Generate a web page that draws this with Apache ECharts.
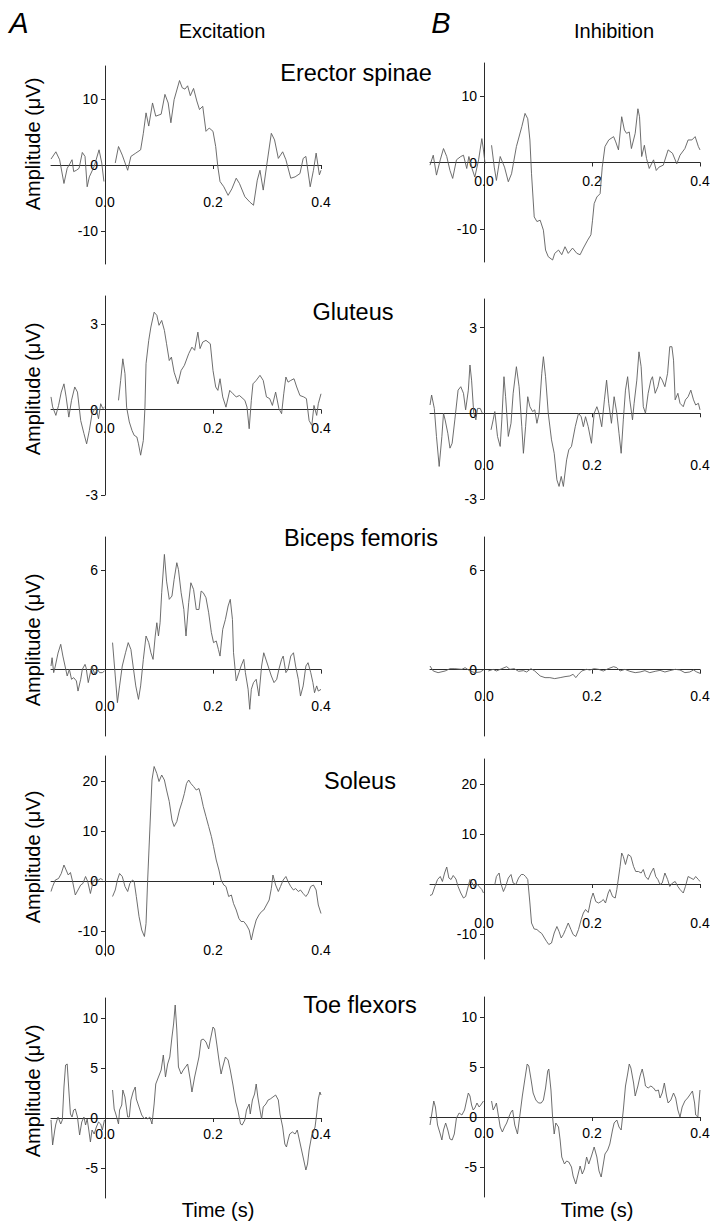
<!DOCTYPE html>
<html>
<head>
<meta charset="utf-8">
<title>Excitation / Inhibition</title>
<script src="https://cdn.jsdelivr.net/npm/echarts@6/dist/echarts.min.js"></script>
<style>
  html, body { margin: 0; padding: 0; background: #fff; }
  #chart { width: 710px; height: 1221px; }
</style>
</head>
<body>
<div id="chart"></div>
<script>
const muscles = ['Erector spinae', 'Gluteus', 'Biceps femoris', 'Soleus', 'Toe flexors']
const conditions = ['Excitation', 'Inhibition']
const columnLetters = ['A', 'B']
const timeMin = -0.1
const timeMax = 0.4
const timeTicks = [0, 0.2, 0.4]
const ampMin = [-15, -3, -4, -15, -8]
const ampMax = [15, 4, 8, 25, 12]
const ampTicks = [[-10, 0, 10], [-3, 0, 3], [0, 6], [-10, 0, 10, 20], [-5, 0, 5, 10]]

// traces as [time (s), amplitude (uV)]; null = blanked stimulus artefact
const erectorExc = [[-0.1,0.9],[-0.091,2.0],[-0.084,0.8],[-0.076,-2.8],[-0.07,-0.5],[-0.065,0.2],[-0.061,0.8],[-0.058,-1.0],[-0.053,-0.8],[-0.048,-0.5],[-0.042,1.9],[-0.037,1.3],[-0.033,-3.3],[-0.029,-1.8],[-0.02,-0.2],[-0.011,2.3],[-0.006,0.3],[-0.002,-2.5],[0.008,null],[0.019,0.3],[0.025,2.8],[0.032,1.5],[0.042,-0.8],[0.048,1.3],[0.057,1.8],[0.066,2.3],[0.071,4.8],[0.076,7.9],[0.081,5.9],[0.088,9.4],[0.094,7.4],[0.104,7.7],[0.111,10.7],[0.117,9.4],[0.122,6.4],[0.128,9.9],[0.138,12.8],[0.143,11.7],[0.148,11.5],[0.153,12.0],[0.158,10.5],[0.164,11.6],[0.17,9.7],[0.175,8.4],[0.181,8.9],[0.187,5.1],[0.193,5.6],[0.2,5.1],[0.205,2.8],[0.209,-0.3],[0.213,-2.5],[0.22,-3.3],[0.228,-4.6],[0.235,-3.6],[0.243,-2.0],[0.249,-2.8],[0.259,-4.8],[0.268,-5.6],[0.275,-6.1],[0.282,-2.3],[0.287,-0.8],[0.293,-3.8],[0.299,-0.3],[0.308,4.8],[0.314,3.8],[0.321,1.0],[0.329,2.0],[0.335,0.8],[0.344,-2.0],[0.352,-1.8],[0.361,-1.3],[0.367,1.0],[0.372,1.3],[0.38,-3.3],[0.386,-0.8],[0.391,1.8],[0.397,-1.5],[0.4,-0.8]]
const erectorInh = [[-0.1,-0.4],[-0.094,1.1],[-0.088,-1.9],[-0.081,0.4],[-0.075,2.1],[-0.069,0.9],[-0.063,-1.2],[-0.058,-2.4],[-0.051,0.4],[-0.043,0.9],[-0.038,1.1],[-0.032,-0.9],[-0.028,0.9],[-0.023,-0.7],[-0.017,-2.2],[-0.01,0.4],[-0.004,3.6],[-0.001,1.9],[0.002,-0.2],[0.008,null],[0.014,2.6],[0.019,-0.7],[0.023,-2.7],[0.03,0.9],[0.038,-0.7],[0.045,-2.9],[0.051,-1.7],[0.06,2.4],[0.07,5.4],[0.076,7.4],[0.081,6.6],[0.085,3.4],[0.088,-1.7],[0.093,-8.2],[0.098,-8.9],[0.104,-8.7],[0.11,-10.2],[0.114,-13.2],[0.119,-14.2],[0.127,-14.7],[0.131,-13.7],[0.138,-13.2],[0.144,-13.9],[0.15,-12.7],[0.156,-13.7],[0.164,-12.9],[0.172,-13.7],[0.178,-13.9],[0.184,-12.9],[0.192,-11.7],[0.198,-10.9],[0.201,-8.7],[0.204,-6.2],[0.209,-5.2],[0.215,-4.7],[0.219,-0.7],[0.224,2.4],[0.231,3.4],[0.24,3.9],[0.244,3.1],[0.249,1.9],[0.255,6.9],[0.26,4.9],[0.264,4.4],[0.269,4.6],[0.273,2.1],[0.28,4.4],[0.285,8.1],[0.288,6.9],[0.292,0.9],[0.297,2.6],[0.301,0.6],[0.306,-0.9],[0.314,0.4],[0.319,-1.2],[0.324,-0.7],[0.332,-0.4],[0.341,1.9],[0.349,1.4],[0.357,-0.2],[0.363,1.1],[0.372,2.1],[0.378,3.4],[0.385,3.4],[0.391,3.9],[0.397,2.4],[0.4,1.9]]
const gluteusExc = [[-0.1,0.45],[-0.097,0.1],[-0.091,-0.2],[-0.086,0.15],[-0.081,0.62],[-0.076,0.91],[-0.072,0.45],[-0.067,-0.26],[-0.062,0.33],[-0.056,0.8],[-0.051,0.62],[-0.045,-0.38],[-0.039,-0.84],[-0.034,-1.2],[-0.029,-0.73],[-0.024,-0.14],[-0.017,0.09],[-0.012,-0.32],[-0.008,0.21],[-0.004,0.04],[-0.001,0.09],[0.012,null],[0.025,0.33],[0.029,1.03],[0.033,1.79],[0.037,1.27],[0.04,0.09],[0.045,-0.43],[0.05,-0.73],[0.054,-0.9],[0.059,-0.96],[0.062,-1.2],[0.066,-1.6],[0.071,-1.08],[0.074,0.09],[0.076,1.62],[0.081,2.44],[0.085,2.91],[0.091,3.43],[0.096,3.32],[0.1,2.97],[0.105,3.14],[0.11,2.79],[0.114,2.32],[0.119,1.73],[0.123,1.85],[0.128,1.32],[0.135,0.91],[0.141,1.38],[0.147,1.56],[0.155,1.97],[0.161,2.2],[0.166,2.09],[0.172,2.73],[0.176,2.15],[0.181,2.38],[0.187,2.44],[0.195,2.32],[0.2,1.38],[0.205,0.8],[0.209,0.68],[0.213,1.09],[0.218,0.45],[0.224,0.09],[0.231,0.68],[0.237,0.56],[0.243,0.45],[0.249,0.5],[0.259,0.33],[0.263,0.09],[0.267,-0.67],[0.271,0.33],[0.274,0.91],[0.28,1.03],[0.287,1.21],[0.293,1.03],[0.299,0.45],[0.305,0.39],[0.31,0.15],[0.316,0.62],[0.322,0.04],[0.327,-0.14],[0.331,0.56],[0.335,1.15],[0.339,0.97],[0.344,1.03],[0.35,1.09],[0.355,0.8],[0.361,0.5],[0.368,0.45],[0.373,0.39],[0.378,-0.38],[0.383,-0.55],[0.387,0.15],[0.392,-0.2],[0.395,0.21],[0.4,0.56]]
const gluteusInh = [[-0.1,0.29],[-0.097,0.64],[-0.092,0.17],[-0.088,-0.81],[-0.083,-1.86],[-0.078,-0.81],[-0.075,0],[-0.072,-0.23],[-0.067,-0.7],[-0.063,-1.22],[-0.059,-1.05],[-0.054,-0.23],[-0.048,0.81],[-0.043,0.93],[-0.038,0.7],[-0.034,0.12],[-0.029,0.81],[-0.026,1.69],[-0.023,1.16],[-0.019,0],[-0.015,-0.23],[-0.012,0.17],[-0.007,0.17],[-0.003,0],[0.005,null],[0.013,-0.58],[0.017,-0.23],[0.02,0.06],[0.025,-0.81],[0.03,-1.16],[0.033,-0.23],[0.037,1.28],[0.04,0.58],[0.045,-0.81],[0.05,-0.35],[0.054,0.7],[0.06,1.63],[0.065,0.93],[0.07,-0.47],[0.073,-1.4],[0.077,-0.47],[0.081,0.58],[0.085,0.23],[0.09,0.06],[0.094,0.12],[0.098,-0.35],[0.102,0],[0.107,1.4],[0.11,1.98],[0.114,1.28],[0.119,0],[0.125,-0.93],[0.13,-1.4],[0.135,-2.33],[0.139,-2.56],[0.143,-2.21],[0.147,-2.56],[0.15,-2.09],[0.153,-1.63],[0.157,-1.28],[0.162,-1.16],[0.169,-0.47],[0.175,0],[0.18,-0.12],[0.184,-0.47],[0.188,-0.12],[0.193,-0.47],[0.199,-1.05],[0.204,0],[0.209,0.23],[0.213,0],[0.218,-0.47],[0.223,0.47],[0.227,1.16],[0.231,0.35],[0.236,-0.35],[0.241,0.58],[0.246,0],[0.25,-0.7],[0.254,-1.4],[0.258,-0.23],[0.262,0.81],[0.266,1.28],[0.27,0.47],[0.275,-0.23],[0.278,0.35],[0.283,1.16],[0.287,2.15],[0.291,1.63],[0.295,0.23],[0.299,0],[0.304,0.7],[0.309,1.16],[0.312,1.28],[0.317,0.7],[0.322,0.93],[0.326,1.28],[0.33,1.16],[0.335,0.93],[0.34,1.4],[0.344,2.33],[0.348,2.33],[0.351,1.86],[0.354,0.47],[0.359,0.7],[0.363,0.35],[0.369,0.23],[0.373,0.47],[0.378,0.58],[0.383,0.81],[0.388,0.47],[0.392,0.29],[0.397,0.35],[0.4,0.12]]
const bicepsExc = [[-0.1,0.22],[-0.098,0.72],[-0.095,-0.18],[-0.092,0.22],[-0.087,1.0],[-0.082,1.53],[-0.078,0.82],[-0.074,0.22],[-0.07,-0.38],[-0.066,0.02],[-0.062,-0.58],[-0.058,-0.48],[-0.053,-0.68],[-0.05,-1.29],[-0.045,-0.58],[-0.042,0.02],[-0.037,0.32],[-0.035,0.12],[-0.031,-0.78],[-0.027,-0.18],[-0.024,0.22],[-0.019,-0.28],[-0.014,0.02],[-0.01,-0.18],[-0.005,-0.18],[-0.001,-0.08],[0.006,null],[0.014,1.63],[0.019,-0.38],[0.023,-1.99],[0.027,-0.98],[0.032,0.22],[0.038,1.02],[0.043,1.63],[0.048,1.22],[0.052,0.22],[0.057,-0.98],[0.062,-1.79],[0.066,-0.98],[0.071,0.62],[0.076,2.03],[0.081,1.63],[0.085,1.02],[0.089,0.62],[0.093,2.03],[0.096,2.83],[0.099,2.03],[0.102,2.83],[0.105,4.64],[0.11,6.95],[0.114,5.34],[0.119,4.24],[0.124,4.44],[0.128,5.44],[0.133,6.45],[0.136,6.04],[0.141,4.64],[0.146,3.63],[0.15,2.03],[0.155,4.04],[0.159,5.24],[0.164,4.84],[0.169,3.63],[0.174,3.63],[0.178,4.74],[0.182,4.64],[0.187,4.34],[0.192,3.43],[0.197,2.23],[0.201,1.63],[0.206,1.73],[0.21,1.22],[0.213,0.82],[0.218,2.43],[0.223,3.03],[0.228,3.84],[0.232,4.24],[0.236,3.03],[0.238,1.02],[0.243,-0.68],[0.248,-0.18],[0.252,0.22],[0.257,0.62],[0.26,-0.18],[0.265,-1.18],[0.268,-2.39],[0.271,-1.18],[0.275,-0.78],[0.28,-0.58],[0.285,-1.59],[0.29,0.22],[0.294,1.02],[0.299,0.52],[0.304,0.02],[0.308,-0.38],[0.313,-0.78],[0.318,-0.58],[0.322,0.02],[0.327,0.62],[0.33,0.82],[0.335,-0.18],[0.339,0.02],[0.344,0.82],[0.349,1.02],[0.353,0.22],[0.358,-0.58],[0.362,-1.59],[0.367,-0.98],[0.372,0.22],[0.376,0.42],[0.381,-0.18],[0.385,-0.78],[0.388,-1.39],[0.392,-0.98],[0.395,-1.29],[0.4,-1.19]]
const bicepsInh = [[-0.1,0.22],[-0.094,-0.08],[-0.085,-0.18],[-0.072,-0.08],[-0.063,0.06],[-0.054,0.06],[-0.041,0.02],[-0.035,0.12],[-0.026,-0.08],[-0.017,-0.18],[-0.007,-0.14],[-0.001,-0.02],[0.004,null],[0.008,-0.08],[0.017,0.02],[0.023,-0.08],[0.033,0.06],[0.042,0.18],[0.048,0.02],[0.056,0.06],[0.064,-0.1],[0.073,-0.06],[0.079,-0.14],[0.087,0.06],[0.094,-0.08],[0.104,-0.38],[0.113,-0.48],[0.122,-0.48],[0.131,-0.54],[0.141,-0.48],[0.15,-0.42],[0.159,-0.38],[0.165,-0.28],[0.17,-0.48],[0.175,-0.28],[0.181,-0.08],[0.19,0.02],[0.196,-0.02],[0.204,0.06],[0.212,0.02],[0.221,-0.08],[0.23,0.06],[0.24,0.18],[0.246,0.12],[0.252,-0.08],[0.261,0.02],[0.27,-0.1],[0.28,-0.18],[0.289,-0.14],[0.298,-0.06],[0.307,-0.18],[0.317,-0.1],[0.326,-0.04],[0.335,-0.14],[0.344,-0.06],[0.354,0.02],[0.363,-0.02],[0.372,-0.18],[0.381,-0.14],[0.388,-0.02],[0.394,-0.14],[0.4,-0.22]]
const soleusExc = [[-0.1,-2.1],[-0.097,-1.1],[-0.092,0.2],[-0.086,0.5],[-0.081,1.5],[-0.076,3.2],[-0.072,2.2],[-0.068,1.2],[-0.064,1.7],[-0.06,-0.1],[-0.055,-2.8],[-0.05,-1.8],[-0.045,-0.8],[-0.041,-0.5],[-0.036,0.9],[-0.032,-0.1],[-0.027,-2.5],[-0.022,-0.1],[-0.017,0.5],[-0.012,0.2],[-0.008,0.5],[-0.004,0.2],[0.005,null],[0.014,-3.1],[0.019,-1.8],[0.023,0.2],[0.027,1.5],[0.032,0.9],[0.037,-1.1],[0.042,-2.1],[0.046,-0.5],[0.051,0.2],[0.054,-0.1],[0.058,-3.1],[0.063,-7.1],[0.068,-9.8],[0.073,-11.1],[0.076,-8.5],[0.079,0.2],[0.083,10.2],[0.087,20.2],[0.091,22.9],[0.096,21.5],[0.1,19.9],[0.105,21.2],[0.11,20.2],[0.114,18.2],[0.119,15.9],[0.124,12.2],[0.128,10.9],[0.133,11.9],[0.138,14.2],[0.143,15.9],[0.147,17.5],[0.151,19.5],[0.155,20.2],[0.159,19.5],[0.164,18.9],[0.169,18.2],[0.174,18.5],[0.178,16.9],[0.182,14.9],[0.187,12.9],[0.192,10.9],[0.197,8.9],[0.201,6.9],[0.206,4.2],[0.211,2.2],[0.215,0.2],[0.22,-0.8],[0.224,-1.1],[0.229,-3.1],[0.234,-2.8],[0.238,-4.5],[0.243,-5.8],[0.248,-7.5],[0.252,-8.1],[0.257,-8.1],[0.262,-8.8],[0.267,-9.8],[0.271,-11.8],[0.275,-9.8],[0.28,-7.8],[0.285,-6.8],[0.29,-6.1],[0.294,-5.8],[0.299,-4.8],[0.304,-3.8],[0.308,-1.5],[0.311,1.2],[0.316,-0.8],[0.321,-2.1],[0.325,-1.1],[0.33,0.2],[0.335,0.9],[0.339,-0.1],[0.344,-1.1],[0.349,-1.8],[0.353,-1.5],[0.358,-2.1],[0.362,-1.8],[0.367,-2.5],[0.372,-3.1],[0.376,-2.5],[0.381,-1.1],[0.386,-0.8],[0.391,-1.8],[0.395,-4.8],[0.4,-6.5]]
const soleusInh = [[-0.1,-2.3],[-0.096,-2.1],[-0.091,-0.5],[-0.086,0.9],[-0.081,1.5],[-0.077,0.5],[-0.073,2.2],[-0.069,3.4],[-0.065,1.2],[-0.061,0.9],[-0.057,1.7],[-0.052,1.0],[-0.048,-0.5],[-0.043,-1.8],[-0.038,-2.8],[-0.034,-2.5],[-0.03,-0.8],[-0.026,0.9],[-0.022,0.2],[-0.018,-0.5],[-0.014,0.1],[-0.009,-0.5],[-0.004,-1.1],[-0.001,-1.8],[0.01,null],[0.02,-0.1],[0.023,1.5],[0.028,2.2],[0.031,0.2],[0.036,-1.5],[0.04,-0.5],[0.045,1.2],[0.05,1.9],[0.054,0.2],[0.059,-0.1],[0.064,1.2],[0.069,1.9],[0.073,1.9],[0.077,1.5],[0.081,0.9],[0.085,-3.8],[0.088,-7.8],[0.093,-9.0],[0.098,-9.1],[0.102,-9.5],[0.107,-9.9],[0.112,-10.8],[0.116,-11.5],[0.12,-12.1],[0.125,-11.8],[0.13,-9.8],[0.135,-8.5],[0.139,-9.5],[0.143,-10.8],[0.147,-10.1],[0.151,-9.1],[0.156,-7.8],[0.161,-9.1],[0.165,-10.1],[0.17,-10.5],[0.175,-9.1],[0.18,-7.1],[0.184,-5.8],[0.188,-5.1],[0.193,-5.7],[0.198,-3.1],[0.202,-1.8],[0.207,-3.5],[0.212,-3.8],[0.217,-3.5],[0.221,-3.1],[0.225,-3.8],[0.23,-1.8],[0.233,-1.1],[0.238,-2.5],[0.243,-2.8],[0.246,-1.1],[0.249,1.2],[0.252,3.5],[0.255,6.2],[0.258,5.5],[0.262,3.9],[0.267,5.9],[0.272,5.5],[0.277,3.5],[0.281,2.5],[0.286,2.5],[0.291,2.2],[0.295,2.9],[0.299,1.5],[0.304,0.9],[0.309,2.2],[0.314,3.2],[0.318,1.5],[0.322,0.9],[0.326,-0.1],[0.33,0.2],[0.335,2.2],[0.34,0.9],[0.344,-0.5],[0.349,0.2],[0.354,0.5],[0.359,-0.5],[0.363,-1.1],[0.369,-1.8],[0.373,-0.5],[0.378,1.5],[0.383,1.2],[0.388,0.9],[0.392,1.5],[0.397,0.9],[0.4,0.5]]
const toeExc = [[-0.1,-0.2],[-0.097,-2.7],[-0.093,-1.2],[-0.091,-0.6],[-0.087,0.1],[-0.082,-0.6],[-0.079,-0.2],[-0.076,3.1],[-0.073,5.3],[-0.07,5.4],[-0.067,2.8],[-0.064,0.4],[-0.061,0.1],[-0.058,0.8],[-0.055,0.9],[-0.051,0.1],[-0.047,-1.7],[-0.043,-0.4],[-0.039,0.1],[-0.036,-0.7],[-0.033,-0.1],[-0.03,-1.2],[-0.027,-2.4],[-0.024,-1.2],[-0.02,-1.6],[-0.016,-0.9],[-0.012,-0.4],[-0.008,-0.6],[-0.005,-1.2],[-0.001,-0.2],[0.006,null],[0.014,2.8],[0.017,0.9],[0.02,0.4],[0.025,-0.6],[0.027,0.8],[0.031,1.3],[0.033,2.8],[0.037,2.1],[0.042,0.1],[0.045,0.1],[0.048,1.8],[0.052,2.6],[0.056,3.1],[0.058,1.9],[0.063,1.1],[0.068,0.3],[0.073,-0.1],[0.076,0.1],[0.079,-0.1],[0.083,0.1],[0.087,-0.6],[0.091,1.4],[0.094,3.4],[0.099,4.1],[0.104,4.8],[0.108,6.3],[0.112,4.1],[0.116,5.4],[0.12,6.1],[0.124,8.1],[0.127,9.4],[0.13,11.3],[0.133,8.8],[0.136,5.1],[0.141,4.4],[0.145,4.8],[0.149,5.1],[0.153,5.4],[0.158,3.8],[0.161,2.6],[0.166,4.1],[0.17,5.1],[0.174,6.1],[0.178,7.8],[0.182,7.9],[0.187,7.6],[0.192,6.9],[0.195,7.8],[0.2,9.1],[0.203,8.9],[0.207,7.4],[0.211,5.8],[0.215,4.4],[0.218,5.1],[0.223,6.1],[0.228,5.8],[0.232,4.8],[0.237,3.3],[0.242,1.6],[0.246,0.8],[0.251,-0.6],[0.254,-0.7],[0.259,-0.2],[0.262,0.8],[0.267,1.4],[0.269,0.4],[0.273,1.8],[0.277,2.4],[0.28,3.4],[0.283,2.1],[0.287,0.8],[0.29,-0.1],[0.293,1.1],[0.298,1.4],[0.302,1.8],[0.306,1.9],[0.311,2.1],[0.316,2.3],[0.321,1.8],[0.324,0.4],[0.329,-0.9],[0.333,-2.6],[0.336,-2.9],[0.339,-2.2],[0.342,-1.6],[0.347,-1.4],[0.352,-1.6],[0.356,-1.2],[0.36,-2.2],[0.364,-3.2],[0.368,-4.2],[0.372,-5.2],[0.375,-4.6],[0.378,-3.2],[0.383,-1.7],[0.386,-1.4],[0.389,-0.9],[0.392,0.4],[0.395,1.9],[0.398,2.6],[0.4,2.3]]
const toeInh = [[-0.1,-0.8],[-0.097,0.2],[-0.093,1.6],[-0.09,1.0],[-0.086,-0.8],[-0.081,-1.7],[-0.078,-2.3],[-0.075,-1.3],[-0.071,-0.6],[-0.067,-1.3],[-0.063,-2.2],[-0.059,-2.3],[-0.055,-1.7],[-0.051,-0.1],[-0.046,0.4],[-0.041,0.2],[-0.036,0.7],[-0.032,1.7],[-0.029,2.4],[-0.026,2.1],[-0.023,1.2],[-0.02,0.7],[-0.017,0.9],[-0.013,1.4],[-0.009,1.0],[-0.006,1.2],[-0.001,1.6],[0.006,null],[0.014,1.6],[0.017,0.7],[0.02,1.0],[0.023,1.4],[0.027,0.0],[0.03,-1.0],[0.034,-1.5],[0.038,-1.0],[0.042,-0.6],[0.046,0.0],[0.05,0.5],[0.053,0.7],[0.057,-0.8],[0.062,-1.7],[0.067,0.4],[0.071,2.1],[0.076,3.9],[0.08,5.3],[0.083,5.1],[0.087,3.8],[0.091,2.4],[0.096,1.7],[0.101,1.4],[0.106,1.4],[0.11,1.7],[0.114,2.9],[0.118,4.6],[0.12,4.8],[0.124,2.7],[0.127,0.0],[0.13,-1.7],[0.133,-0.6],[0.138,-1.0],[0.141,-2.3],[0.144,-4.0],[0.149,-4.7],[0.153,-4.4],[0.157,-4.5],[0.162,-5.0],[0.165,-5.9],[0.17,-6.7],[0.173,-6.0],[0.178,-4.9],[0.182,-5.7],[0.186,-5.2],[0.19,-4.0],[0.194,-4.7],[0.199,-3.9],[0.204,-3.0],[0.209,-4.0],[0.213,-5.4],[0.217,-6.0],[0.221,-4.7],[0.224,-3.7],[0.229,-3.3],[0.233,-2.7],[0.238,-1.3],[0.241,-0.6],[0.246,-0.3],[0.25,-1.0],[0.254,-1.3],[0.258,0.7],[0.262,3.1],[0.266,4.3],[0.269,5.3],[0.272,4.9],[0.277,3.4],[0.28,2.1],[0.285,3.1],[0.289,4.1],[0.293,4.8],[0.297,3.8],[0.299,3.1],[0.304,2.9],[0.309,3.1],[0.314,2.9],[0.318,2.6],[0.323,2.7],[0.326,1.9],[0.33,2.4],[0.334,3.4],[0.338,2.1],[0.341,1.4],[0.346,1.7],[0.351,2.4],[0.355,1.9],[0.359,0.7],[0.363,0.0],[0.367,1.0],[0.372,1.6],[0.377,1.9],[0.381,2.2],[0.386,2.6],[0.39,1.4],[0.392,0.2],[0.396,0.0],[0.398,1.4],[0.4,2.7]]

const traces = [
  [erectorExc, erectorInh],
  [gluteusExc, gluteusInh],
  [bicepsExc, bicepsInh],
  [soleusExc, soleusInh],
  [toeExc, toeInh]
]

// layout in px
const colLeft = [51, 430]
const plotWidth = 270
const rowTop = [[66, 63], [296, 299], [537, 537], [756, 759], [998, 997]]
const rowHeight = [[198, 199], [199, 200], [199, 199], [200, 200], [200, 200]]
const timeLabelGap = [[30, 11], [11, 45], [29, 19], [62, 32], [9, 9]]
const titlePos = [[356, 73], [353, 312], [361, 538], [360, 781], [360, 1005]]
const ampLabelY = [144, 389, 640, 857, 1091]

const font = '"Liberation Sans", Arial, sans-serif'
const axisColor = '#2b2b2b'
const traceColor = '#5e5e5e'

const chart = echarts.init(document.getElementById('chart'), null, { renderer: 'svg' })

const grid = [], xAxis = [], yAxis = [], series = []
traces.forEach((pair, row) => {
  pair.forEach((trace, col) => {
    const i = grid.length
    const h = rowHeight[row][col]
    // the axes cross at (0, 0): shift them into the plot instead of onZero
    const xShift = h * (0 - ampMin[row]) / (ampMax[row] - ampMin[row])
    const yShift = plotWidth * (0 - timeMin) / (timeMax - timeMin)
    grid.push({
      left: colLeft[col], top: rowTop[row][col],
      width: plotWidth, height: h,
      outerBoundsMode: 'none'
    })
    xAxis.push({
      type: 'value', gridIndex: i, min: timeMin, max: timeMax,
      position: 'bottom', offset: -xShift,
      splitLine: { show: false },
      axisLine: { show: true, onZero: false, lineStyle: { color: axisColor, width: 1 } },
      axisTick: { show: true, length: 4, customValues: timeTicks, lineStyle: { color: axisColor } },
      axisLabel: {
        customValues: timeTicks, margin: timeLabelGap[row][col],
        formatter: v => v.toFixed(1),
        color: '#000', fontSize: 14, fontFamily: font
      }
    })
    yAxis.push({
      type: 'value', gridIndex: i, min: ampMin[row], max: ampMax[row],
      position: 'left', offset: -yShift,
      splitLine: { show: false },
      axisLine: { show: true, onZero: false, lineStyle: { color: axisColor, width: 1 } },
      axisTick: { show: true, length: 4, customValues: ampTicks[row], lineStyle: { color: axisColor } },
      axisLabel: {
        customValues: ampTicks[row], margin: 7,
        color: '#000', fontSize: 14, fontFamily: font
      }
    })
    series.push({
      name: muscles[row] + ' - ' + conditions[col],
      type: 'line', xAxisIndex: i, yAxisIndex: i,
      data: trace.map(p => [p[0], p[1] == null ? '-' : p[1]]),
      showSymbol: false, symbol: 'none', connectNulls: false, silent: true,
      lineStyle: { color: traceColor, width: 0.9 }
    })
  })
})

const txt = (text, x, y, size, extra) => Object.assign({
  type: 'text', x: x, y: y, silent: true,
  style: { text: text, fill: '#000', fontSize: size, fontFamily: font,
    textAlign: 'center', textVerticalAlign: 'middle' }
}, extra || {})

const graphic = []
columnLetters.forEach((letter, col) => {
  const g = txt(letter, [19, 441][col], 23, 29)
  g.style.fontStyle = 'italic'
  graphic.push(g)
  graphic.push(txt(conditions[col], [222, 614][col], 31, 20))
  graphic.push(txt('Time (s)', [218, 597][col], 1210, 20))
})
muscles.forEach((m, row) => {
  graphic.push(txt(m, titlePos[row][0], titlePos[row][1], 23.5))
  graphic.push(txt('Amplitude (\u03bcV)', 33, ampLabelY[row], 20, { rotation: Math.PI / 2 }))
})

chart.setOption({
  backgroundColor: '#fff',
  animation: false,
  grid, xAxis, yAxis, series, graphic
})
</script>
</body>
</html>
